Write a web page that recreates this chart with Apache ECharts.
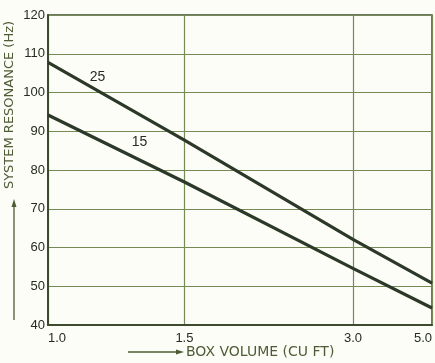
<!DOCTYPE html>
<html><head><meta charset="utf-8">
<script src="https://cdn.jsdelivr.net/npm/echarts@6/dist/echarts.min.js"></script>
<style>html,body{margin:0;padding:0;background:#fdfdf8;}#c{width:435px;height:363px;}</style>
</head><body><div id="c"></div>
<script>
// Box volume ticks (cu ft) and labels
const boxVolumes = [1.0, 1.5, 3.0, 5.0];
const xTickLabels = ['1.0', '1.5', '3.0', '5.0'];
// System resonance (Hz) read at each box volume
const resonance25 = [107.8, 87.7, 62.1, 50.8];
const resonance15 = [94.2, 76.9, 54.6, 44.4];
const seriesNames = ['25', '15'];
// Y axis
const yMin = 40, yMax = 120, yStep = 10;

// Reciprocal-type volume scale of the original chart
const SHIFT = 0.4;
const toAxis = v => -1 / (v + SHIFT);
const fromAxis = u => -1 / u - SHIFT;

const lineColor = '#2c3828';
const gridColor = '#768a55';
const textColor = '#262c20';
const titleColor = '#4e5c36';

const chart = echarts.init(document.getElementById('c'), null, {renderer: 'canvas'});

function labelFor(u) {
  const v = fromAxis(u);
  let best = 0, bd = Infinity;
  boxVolumes.forEach((b, i) => { const d = Math.abs(b - v); if (d < bd) { bd = d; best = i; } });
  return xTickLabels[best];
}

chart.setOption({
  backgroundColor: '#fdfdf8',
  animation: false,
  grid: {left: 48, right: 1, top: 15, bottom: 38, show: true, borderColor: '#3e4a30', borderWidth: 1.5, backgroundColor: 'transparent'},
  xAxis: {
    type: 'value',
    min: toAxis(boxVolumes[0]),
    max: toAxis(boxVolumes[boxVolumes.length - 1]),
    axisLine: {show: true, lineStyle: {color: '#3e4a30', width: 2}},
    axisTick: {show: false, customValues: boxVolumes.map(toAxis)},
    axisLabel: {
      customValues: boxVolumes.map(toAxis),
      formatter: labelFor,
      color: textColor, fontFamily: 'Liberation Sans', fontSize: 13, margin: 7,
      alignMinLabel: 'left', alignMaxLabel: 'right'
    },
    splitLine: {show: true, lineStyle: {color: gridColor, width: 1.2}}
  },
  yAxis: {
    type: 'value', min: yMin, max: yMax, interval: yStep,
    axisLine: {show: true, lineStyle: {color: '#3e4a30', width: 2}},
    axisTick: {show: false},
    axisLabel: {color: textColor, fontFamily: 'Liberation Sans', fontSize: 13, margin: 3},
    splitLine: {show: true, lineStyle: {color: gridColor, width: 1.2}}
  },
  graphic: [
    {type: 'text', x: 10, y: 105, rotation: Math.PI / 2,
     style: {text: 'SYSTEM RESONANCE (Hz)', fill: titleColor, font: '13px "DejaVu Sans"', textAlign: 'center', textVerticalAlign: 'middle'}},
    {type: 'line', shape: {x1: 14, y1: 320, x2: 14, y2: 204}, style: {stroke: titleColor, lineWidth: 1.3}},
    {type: 'polygon', shape: {points: [[14, 199], [11.5, 207], [16.5, 207]]}, style: {fill: titleColor}},
    {type: 'text', x: 186, y: 352,
     style: {text: 'BOX VOLUME (CU FT)', fill: titleColor, font: '14px "DejaVu Sans"', textAlign: 'left', textVerticalAlign: 'middle'}},
    {type: 'line', shape: {x1: 128, y1: 352, x2: 178, y2: 352}, style: {stroke: titleColor, lineWidth: 1.3}},
    {type: 'polygon', shape: {points: [[184, 352], [176, 349.5], [176, 354.5]]}, style: {fill: titleColor}}
  ],
  series: [resonance25, resonance15].map((vals, si) => ({
    type: 'line',
    name: seriesNames[si],
    data: boxVolumes.map((v, i) => [toAxis(v), vals[i]]),
    symbol: 'none',
    lineStyle: {color: lineColor, width: 3.2},
    markPoint: {
      symbol: 'circle', symbolSize: 0,
      label: {show: true, position: 'inside', formatter: seriesNames[si], color: textColor, fontFamily: 'Liberation Sans', fontSize: 14},
      data: [si === 0 ? {coord: [toAxis(1.148), 104]} : {coord: [toAxis(1.30), 87.2]}]
    }
  }))
});
</script></body></html>
